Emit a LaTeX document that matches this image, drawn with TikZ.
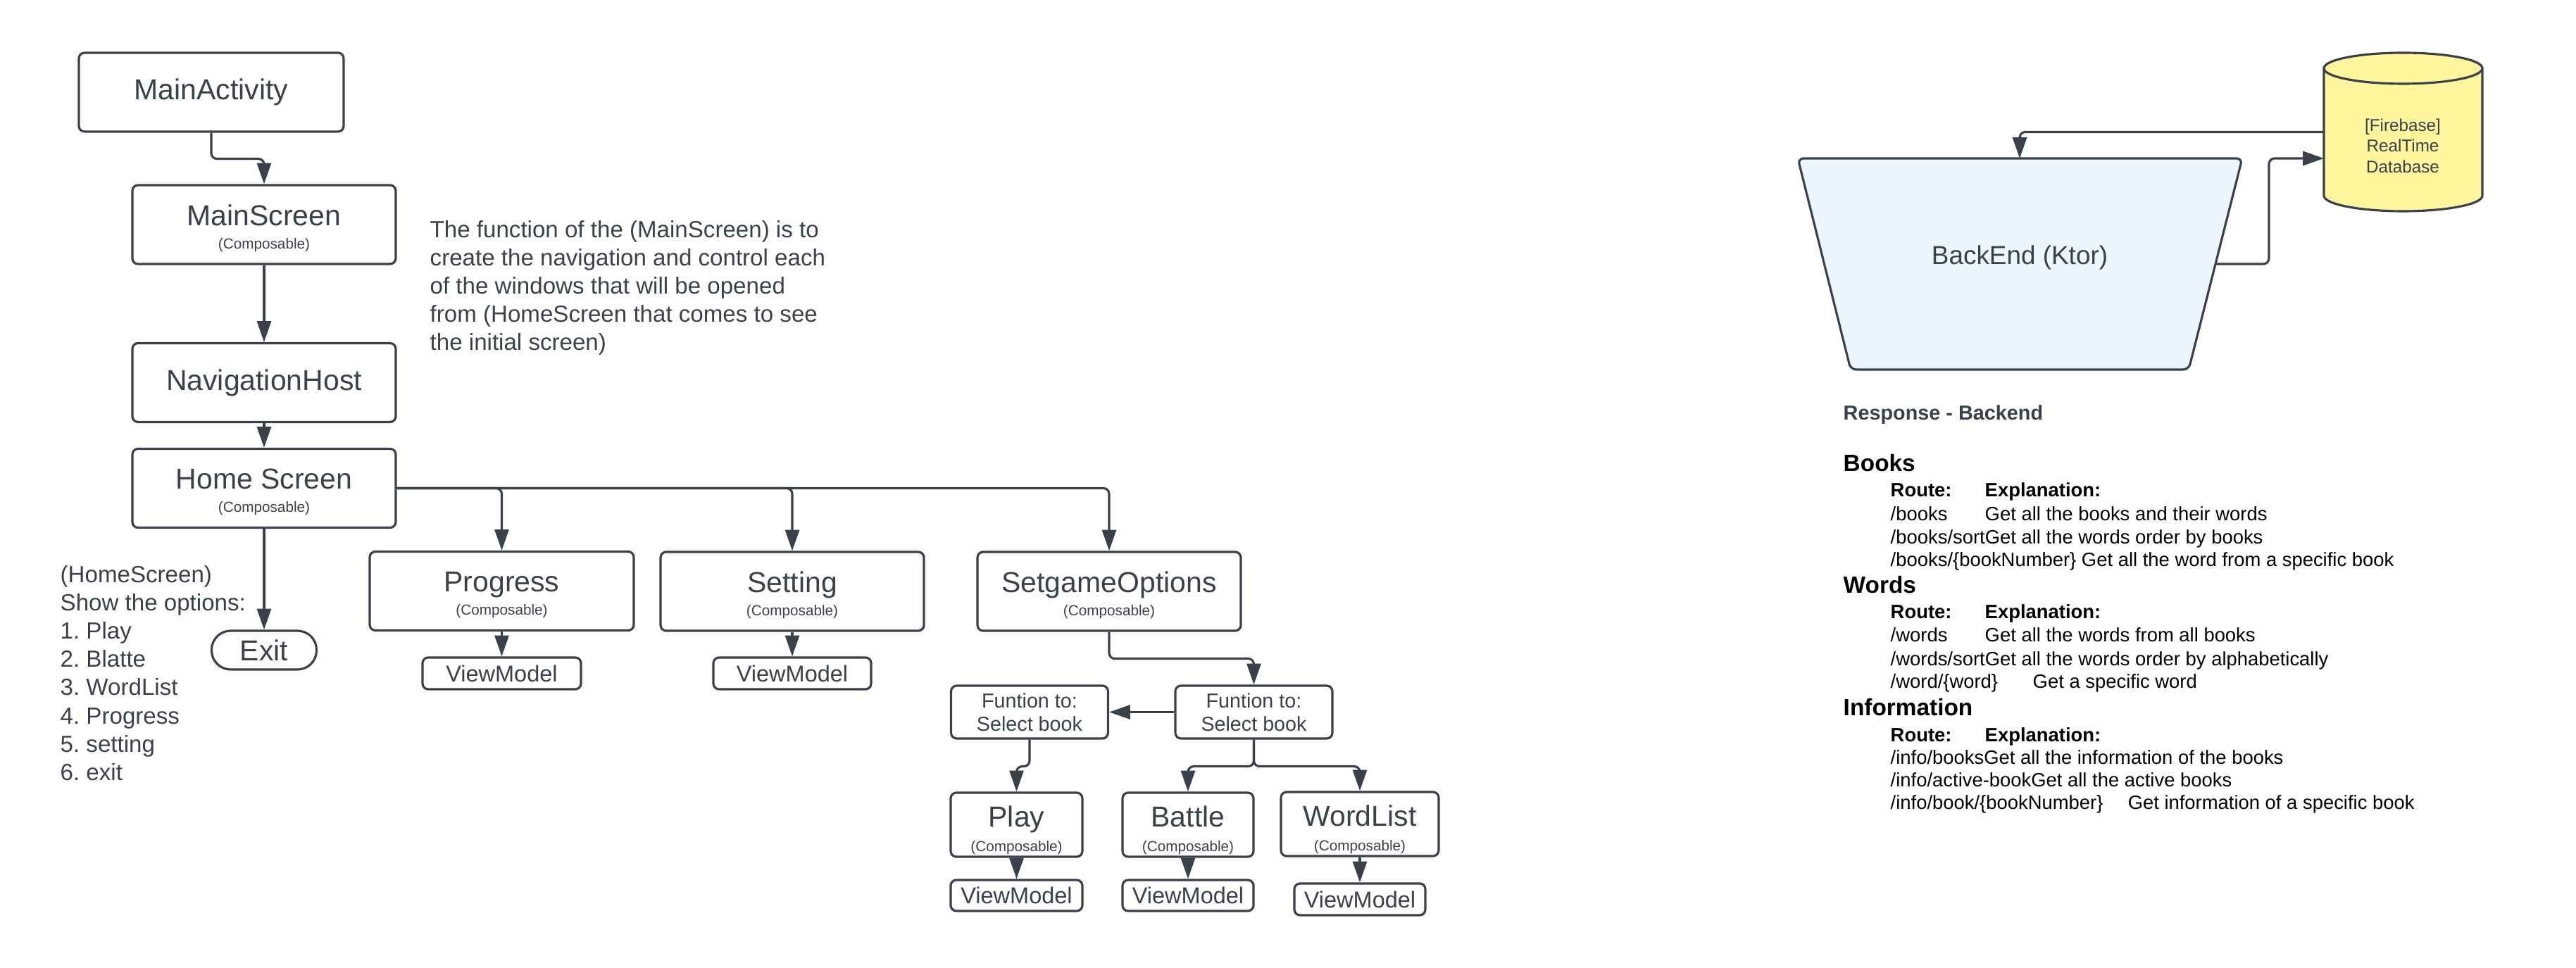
\documentclass[tikz,border=0pt]{standalone}
\usepackage{fontspec}
\setmainfont{Liberation Sans}
\usetikzlibrary{arrows.meta}

\definecolor{ink}{HTML}{3A414A}
\definecolor{backfill}{HTML}{EDF5FF}
\definecolor{dbfill}{HTML}{FFF59D}

\newcommand{\composable}[2][11.3pt]{\rule{0pt}{#1}#2\\{\fontsize{5.9}{7}\selectfont (Composable)}}

\tikzset{
  box/.style={draw=ink, line width=0.9pt, rounded corners=0.08cm, align=center,
    text=ink, inner sep=0pt, minimum width=3.74cm, minimum height=1.12cm,
    font=\fontsize{11.66}{9.4}\selectfont},
  vm/.style={box, minimum width=2.24cm, minimum height=0.45cm, font=\fontsize{9.25}{11}\selectfont},
  fnbox/.style={box, minimum width=2.23cm, minimum height=0.75cm, font=\fontsize{8.17}{9.4}\selectfont},
  smallbox/.style={box, minimum width=1.87cm, minimum height=0.91cm, font=\fontsize{11.66}{9.8}\selectfont},
  conn/.style={draw=ink, line width=0.9pt, rounded corners=0.08cm, -{Triangle[length=8.5pt,width=5.7pt]}},
  note/.style={anchor=north west, align=left, inner sep=0pt, text=ink, font=\fontsize{9.42}{11.4}\selectfont\frenchspacing},
  row/.style={anchor=base west, inner sep=0pt, font=\fontsize{7.8}{9}\selectfont},
  rowhd/.style={row, font=\bfseries\fontsize{7.8}{9}\selectfont},
  head/.style={anchor=base west, inner sep=0pt, font=\bfseries\fontsize{9.5}{11}\selectfont}
}

\begin{document}
\begin{tikzpicture}
  \useasboundingbox (0,0) rectangle (36.58,13.74);

  % app side
  \node[box, minimum width=3.76cm] (act) at (3.00,12.43) {MainActivity};
  \node[box] (main) at (3.75,10.55) {\composable{MainScreen}};
  \node[box] (nav) at (3.75,8.305) {NavigationHost};
  \node[box] (home) at (3.75,6.805) {\composable{Home Screen}};
  \node[box, minimum width=1.49cm, minimum height=0.55cm, rounded corners=0.27cm] (exit) at (3.75,4.505) {Exit};

  \node[box, minimum width=3.75cm] (progress) at (7.125,5.345) {\composable{Progress}};
  \node[vm, minimum width=2.25cm] (progvm) at (7.125,4.175) {ViewModel};
  \node[box] (setting) at (11.25,5.34) {\composable{Setting}};
  \node[vm] (setvm) at (11.25,4.175) {ViewModel};
  \node[box] (setgame) at (15.75,5.34) {\composable{SetgameOptions}};

  \node[fnbox] (selright) at (17.805,3.625) {Funtion to:\\Select book};
  \node[fnbox] (selleft) at (14.62,3.625) {Funtion to:\\Select book};

  \node[smallbox] (play) at (14.435,2.025) {\composable[13pt]{Play}};
  \node[smallbox, minimum width=1.86cm] (battle) at (16.87,2.025) {\composable[13pt]{Battle}};
  \node[smallbox, minimum width=2.24cm] (wordlist) at (19.31,2.035) {\composable[13pt]{WordList}};
  \node[vm, minimum width=1.87cm, minimum height=0.44cm] (playvm) at (14.435,1.02) {ViewModel};
  \node[vm, minimum width=1.86cm, minimum height=0.44cm] (battlevm) at (16.87,1.02) {ViewModel};
  \node[vm, minimum width=1.86cm] (wordvm) at (19.31,0.965) {ViewModel};

  \draw[conn] (act.south) -- ++(0,-0.37) -| (main.north);
  \draw[conn] (main.south) -- (nav.north);
  \draw[conn] (nav.south) -- (home.north);
  \draw[conn] (home.south) -- (exit.north);
  \draw[conn] (home.east) -| (progress.north);
  \draw[conn] (home.east) -| (setting.north);
  \draw[conn] (home.east) -| (setgame.north);
  \draw[conn] (progress.south) -- (progvm.north);
  \draw[conn] (setting.south) -- (setvm.north);
  \draw[conn] (setgame.south) -- ++(0,-0.38) -| (selright.north);
  \draw[conn] (selright.west) -- (selleft.east);
  \draw[conn] (selleft.south) -- ++(0,-0.38) -| (play.north);
  \draw[conn] (selright.south) -- ++(0,-0.38) -| (battle.north);
  \draw[conn] (selright.south) -- ++(0,-0.38) -| (wordlist.north);
  \draw[conn] (play.south) -- (playvm.north);
  \draw[conn] (battle.south) -- (battlevm.north);
  \draw[conn] (wordlist.south) -- (wordvm.north);

  \node[note] (mainnote) at (6.10,10.614) {The function of the (MainScreen) is to\\
    create the navigation and control each\\
    of the windows that will be opened\\
    from (HomeScreen that comes to see\\
    the initial screen)};
  \node[note] (homenote) at (0.85,5.71) {(HomeScreen)\\Show the options:\\1. Play\\2. Blatte\\
    3. WordList\\4. Progress\\5. setting\\6. exit};

  % backend side
  \draw[draw=ink, fill=backfill, line width=0.9pt, rounded corners=0.08cm]
    (25.53,11.49) -- (31.84,11.49) -- (31.08,8.49) -- (26.28,8.49) -- cycle;
  \node[text=ink, font=\fontsize{10.5}{12}\selectfont] (back) at (28.68,10.08) {BackEnd (Ktor)};

  \draw[draw=ink, fill=dbfill, line width=0.9pt] (33.00,12.77) -- (33.00,10.96)
    arc[start angle=180, end angle=360, x radius=1.125, y radius=0.22] -- (35.25,12.77)
    arc[start angle=0, end angle=180, x radius=1.125, y radius=0.22] -- cycle;
  \draw[draw=ink, line width=0.9pt] (33.00,12.77)
    arc[start angle=180, end angle=360, x radius=1.125, y radius=0.22];
  \node[align=center, text=ink, font=\fontsize{6.9}{8.4}\selectfont] (db) at (34.12,11.67) {[Firebase]\\RealTime\\Database};

  \coordinate (dbout) at (33.00,11.865);
  \coordinate (dbin) at (33.00,11.49);
  \coordinate (backtop) at (28.68,11.49);
  \coordinate (backside) at (31.46,9.99);
  \draw[conn] (dbout) -| (backtop);
  \draw[conn] (backside) -- ++(0.76,0) |- (dbin);

  \node[head, text=ink, font=\bfseries\fontsize{8.2}{10}\selectfont] (resp) at (26.17,7.775) {Response - Backend};

  \node[head] (books) at (26.17,7.045) {Books};
  \node[rowhd] (broute) at (26.84,6.68) {Route:};
  \node[rowhd] (bexpl) at (28.18,6.68) {Explanation:};
  \node[row] (b1) at (26.84,6.345) {/books};
  \node[row] (b1e) at (28.18,6.345) {Get all the books and their words};
  \node[row] (b2) at (26.84,6.015) {/books/sortGet all the words order by books};
  \node[row] (b3) at (26.84,5.69) {/books/\{bookNumber\} Get all the word from a specific book};

  \node[head] (words) at (26.17,5.315) {Words};
  \node[rowhd] (wroute) at (26.84,4.95) {Route:};
  \node[rowhd] (wexpl) at (28.18,4.95) {Explanation:};
  \node[row] (w1) at (26.84,4.62) {/words};
  \node[row] (w1e) at (28.18,4.62) {Get all the words from all books};
  \node[row] (w2) at (26.84,4.285) {/words/sortGet all the words order by alphabetically};
  \node[row] (w3) at (26.84,3.96) {/word/\{word\}};
  \node[row] (w3e) at (28.86,3.96) {Get a specific word};

  \node[head] (info) at (26.17,3.575) {Information};
  \node[rowhd] (iroute) at (26.84,3.205) {Route:};
  \node[rowhd] (iexpl) at (28.18,3.205) {Explanation:};
  \node[row] (i1) at (26.84,2.88) {/info/booksGet all the information of the books};
  \node[row] (i2) at (26.84,2.56) {/info/active-bookGet all the active books};
  \node[row] (i3) at (26.84,2.24) {/info/book/\{bookNumber\}};
  \node[row] (i3e) at (30.21,2.24) {Get information of a specific book};
\end{tikzpicture}
\end{document}
